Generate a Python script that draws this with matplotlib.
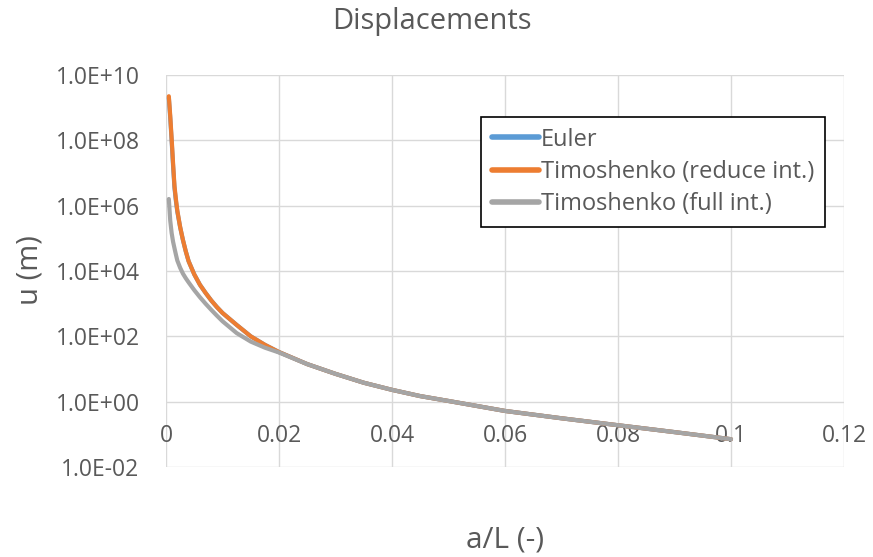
import matplotlib
matplotlib.use("Agg")
import matplotlib.pyplot as plt
from matplotlib.ticker import FuncFormatter, NullLocator

plt.rcParams['font.family'] = ['Open Sans', 'DejaVu Sans']

# ---- data ----
a_over_L = [0.0005, 0.00075, 0.001, 0.00125, 0.0015, 0.00175, 0.002, 0.0025, 0.003,
            0.0035, 0.004, 0.005, 0.006, 0.007, 0.008, 0.009, 0.01, 0.0125, 0.015,
            0.0175, 0.02, 0.025, 0.03, 0.035, 0.04, 0.045, 0.05, 0.06, 0.07, 0.08,
            0.09, 0.1]
u_euler = [2.0e9, 4.8e8, 9.5e7, 1.66e7, 3.5e6, 1.4e6, 6.6e5, 2.2e5, 8.8e4,
           4.0e4, 2.0e4, 7.9e3, 3.8e3, 2.14e3, 1.26e3, 7.9e2, 5.2e2, 2.24e2, 1.0e2,
           55, 33, 14.1, 7.1, 3.8, 2.3, 1.48, 1.05, 0.52, 0.31, 0.19,
           0.117, 0.071]
u_timo_reduced = [2.24e9, 5.6e8, 1.12e8, 2.0e7, 4.0e6, 1.6e6, 7.1e5, 2.24e5, 8.9e4,
                  4.0e4, 2.0e4, 7.9e3, 3.8e3, 2.14e3, 1.26e3, 7.9e2, 5.2e2, 2.24e2, 1.0e2,
                  55, 33, 14.1, 7.1, 3.8, 2.3, 1.48, 1.05, 0.52, 0.31, 0.19,
                  0.117, 0.071]
u_timo_full = [1.6e6, 3.5e5, 1.45e5, 7.9e4, 5.0e4, 3.2e4, 2.1e4, 1.26e4, 8.3e3,
               6.0e3, 4.5e3, 2.6e3, 1.58e3, 1.0e3, 6.5e2, 4.3e2, 2.9e2, 1.26e2, 69,
               45, 32, 14.1, 7.1, 3.8, 2.3, 1.48, 1.05, 0.52, 0.31, 0.19,
               0.117, 0.071]

x_ticks = [0, 0.02, 0.04, 0.06, 0.08, 0.1, 0.12]
y_ticks = [1e-2, 1e0, 1e2, 1e4, 1e6, 1e8, 1e10]

title = "Displacements"
x_label = "a/L (-)"
y_label = "u (m)"
series_labels = ["Euler", "Timoshenko (reduce int.)", "Timoshenko (full int.)"]
colors = ["#5B9BD5", "#ED7D31", "#A5A5A5"]

text_col = "#595959"
grid_col = "#D9D9D9"

fig = plt.figure(figsize=(8.73, 5.57), dpi=100)
ax = fig.add_axes([166/873, 1-467/557, 678/873, 392/557])

for y, lab, c in zip([u_euler, u_timo_reduced, u_timo_full], series_labels, colors):
    ax.plot(a_over_L, y, color=c, lw=3.0, label=lab, solid_capstyle='round',
            solid_joinstyle='round', zorder=3)

ax.set_yscale('log')
ax.set_xlim(0, 0.12)
ax.set_ylim(1e-2, 1e10)
ax.set_xticks(x_ticks)
ax.set_yticks(y_ticks)
ax.yaxis.set_minor_locator(NullLocator())
ax.xaxis.set_major_formatter(FuncFormatter(lambda v, p: f"{v:g}"))
ax.yaxis.set_major_formatter(FuncFormatter(lambda v, p: f"{v:.1E}"))

ax.grid(True, color=grid_col, lw=1.0, zorder=0)
for s in ax.spines.values():
    s.set_visible(False)
ax.spines['bottom'].set_position(('data', 1))

ax.tick_params(axis='both', length=0, labelsize=16.5, labelcolor=text_col)
ax.tick_params(axis='y', pad=19)
ax.tick_params(axis='x', pad=16)

fig.text(432/873, 1-22/557, title, fontsize=21, color=text_col, ha='center', va='center')

ax.set_ylabel(y_label, fontsize=21, color=text_col, va='center')
ax.yaxis.set_label_coords((30-166)/678, (467-270)/392)
ax.set_xlabel(x_label, fontsize=21.5, color=text_col, va='center')
ax.xaxis.set_label_coords((505-166)/678, (467-540)/392)

leg = ax.legend(loc='upper left', bbox_to_anchor=((481-166)/678, (467-117)/392),
                fontsize=17, frameon=True, fancybox=False, framealpha=1,
                edgecolor='black', handlelength=2.0, handletextpad=0.1,
                labelspacing=0.35, borderpad=0.45, borderaxespad=0)
leg.get_frame().set_linewidth(1.2)
for t in leg.get_texts():
    t.set_color(text_col)
for h in leg.get_lines():
    h.set_linewidth(4.0)

fig.savefig("out.png", dpi=100, facecolor='white')
